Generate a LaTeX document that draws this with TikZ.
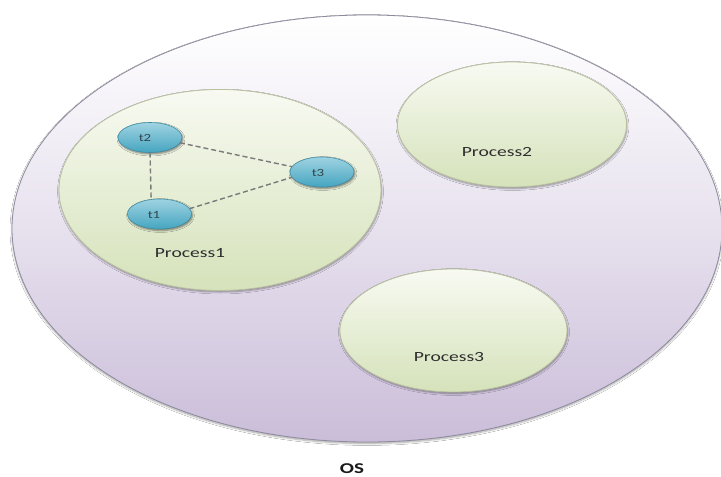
\documentclass[tikz,border=0pt]{standalone}
\usepackage{fontspec}
\setmainfont{Carlito}
\usetikzlibrary{shapes.geometric,shadows.blur}

\definecolor{osTop}{HTML}{FFFFFF}
\definecolor{osBottom}{HTML}{CABDD9}
\definecolor{osLine}{HTML}{8E8A9E}
\definecolor{procTop}{HTML}{F8FAF2}
\definecolor{procBottom}{HTML}{D5E2BA}
\definecolor{procLine}{HTML}{B9C0A0}
\definecolor{thrTop}{HTML}{9FD3E2}
\definecolor{thrBottom}{HTML}{45A5C0}
\definecolor{thrLine}{HTML}{3F8EA5}
\definecolor{linkGray}{HTML}{7A7A7A}
\definecolor{labelGray}{HTML}{2E2E2E}

\tikzset{
  blob/.style={ellipse, inner sep=0pt, outer sep=0pt},
  osbox/.style={blob, draw=osLine, line width=0.8pt,
    top color=osTop, bottom color=osBottom, middle color=osBottom!45!white,
    blur shadow={shadow xshift=0pt, shadow yshift=-1.5pt, shadow blur steps=6, shadow opacity=35}},
  procbox/.style={blob, draw=procLine, line width=0.8pt,
    top color=procTop, bottom color=procBottom,
    blur shadow={shadow xshift=0.5pt, shadow yshift=-1.5pt, shadow blur steps=5, shadow opacity=40}},
  thread/.style={blob, draw=thrLine, line width=0.6pt,
    top color=thrTop, bottom color=thrBottom,
    minimum width=64pt, minimum height=30pt,
    blur shadow={shadow xshift=1pt, shadow yshift=-1.5pt, shadow blur steps=4, shadow opacity=50}},
  link/.style={draw=linkGray, line width=1.4pt, dash pattern=on 5pt off 3pt},
  proclabel/.style={text=labelGray, font=\fontsize{14}{16}\selectfont, xscale=1.4, inner sep=0pt},
  thrlabel/.style={text=labelGray!75!thrLine, font=\fontsize{11}{13}\selectfont, xscale=1.35, inner sep=0pt},
  oslabel/.style={text=black!90, font=\fontsize{15}{17}\selectfont\bfseries, xscale=1.4, inner sep=0pt}
}

\begin{document}
\begin{tikzpicture}[x=1pt, y=-1pt]
  \useasboundingbox[fill=white] (0,0) rectangle (721,477);

  % the operating system
  \node[osbox, minimum width=710pt, minimum height=427pt] (os) at (367,228.5) {};

  % the three processes
  \node[procbox, minimum width=322pt, minimum height=201pt] (p1) at (220,190) {};
  \node[procbox, minimum width=229pt, minimum height=125pt] (p2) at (512,124.5) {};
  \node[procbox, minimum width=227pt, minimum height=123pt] (p3) at (453.5,330.5) {};

  % process names
  \node[proclabel] (p1name) at (190,253) {Process1};
  \node[proclabel] (p2name) at (497,152) {Process2};
  \node[proclabel] (p3name) at (449,357) {Process3};

  % threads of Process1
  \node[thread] (t2) at (150,137.5) {};
  \node[thread] (t3) at (322,172) {};
  \node[thread] (t1) at (159.5,214) {};

  \node[thrlabel] (t2name) at (145,138) {t2};
  \node[thrlabel] (t3name) at (318,172.5) {t3};
  \node[thrlabel] (t1name) at (154,215) {t1};

  % thread interconnections
  \draw[link] (t2.south) -- (t1.120);
  \draw[link] (t2.-10) -- (t3.170);
  \draw[link] (t1.10) -- (t3.190);

  % caption
  \node[oslabel] (osname) at (352,468.5) {OS};
\end{tikzpicture}
\end{document}
